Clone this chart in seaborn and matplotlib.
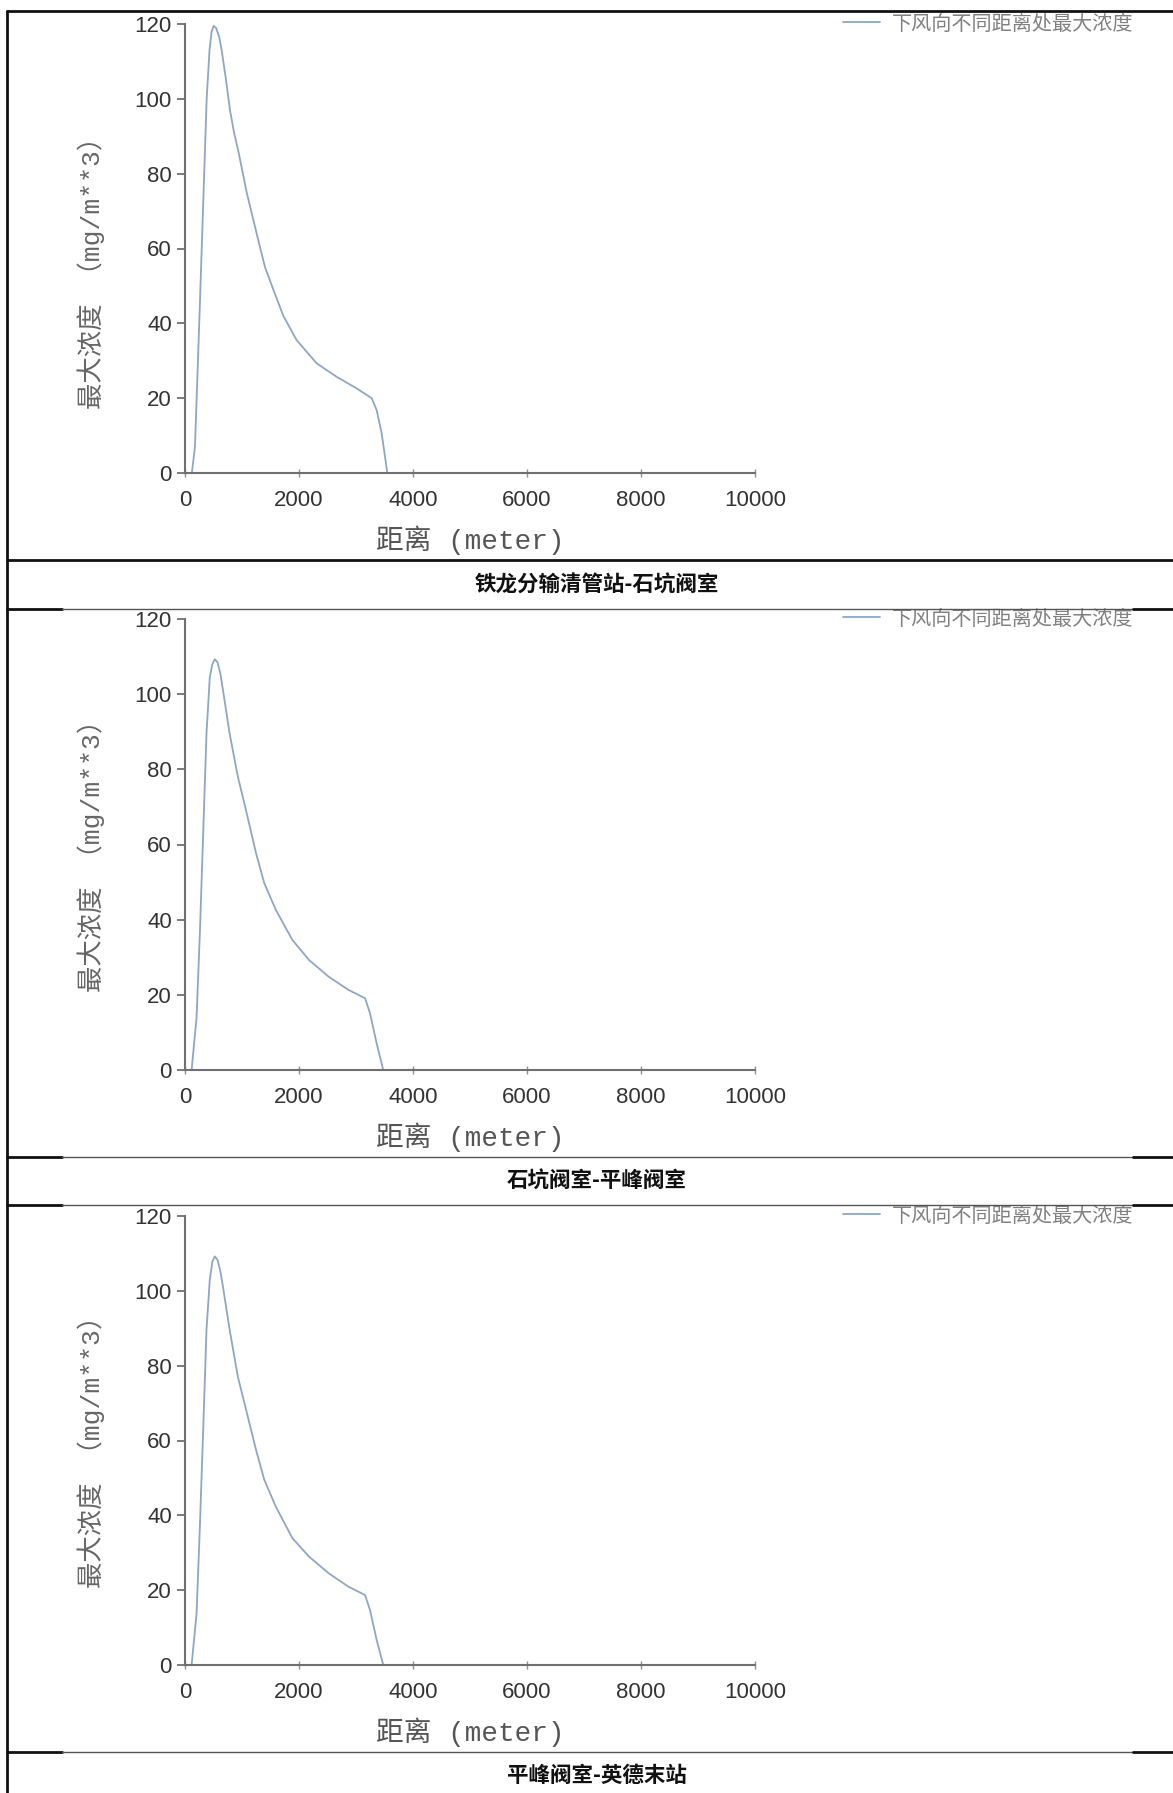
#!/usr/bin/env python3
# -*- coding: utf-8 -*-

import matplotlib
matplotlib.use("Agg")
import matplotlib.pyplot as plt
import seaborn as sns

# -----------------------------------------------------------------------------
# Data: max concentration downwind vs distance, one curve per pipeline section
# -----------------------------------------------------------------------------
captions = ["铁龙分输清管站-石坑阀室", "石坑阀室-平峰阀室", "平峰阀室-英德末站"]
legend_label = "下风向不同距离处最大浓度"

dist_1 = [0, 120, 175, 263, 380, 430, 465, 500, 545, 600, 643, 720, 789, 860, 936,
          1082, 1257, 1404, 1550, 1725, 1959, 2310, 2661, 3012, 3275, 3363, 3450, 3550]
conc_1 = [0, 0, 7, 46, 100, 113, 117.8, 119.5, 119, 116.5, 113, 105, 97, 91, 86,
          75, 64, 55, 49, 42, 35.5, 29.3, 25.7, 22.6, 20, 16.8, 10.6, 0]

dist_2 = [0, 116, 203, 261, 319, 377, 435, 480, 522, 570, 620, 667, 783, 928, 1072,
          1246, 1391, 1594, 1884, 2174, 2522, 2870, 3159, 3246, 3362, 3478]
conc_2 = [0, 0, 14, 36.5, 63, 89.5, 104.5, 108, 109.3, 108.5, 105.5, 101, 89.5, 78, 69,
          57.7, 49.7, 42.6, 34.6, 29.3, 24.8, 21.3, 19.1, 15.1, 7.1, 0]

dist_3 = [0, 116, 203, 261, 319, 377, 435, 480, 522, 570, 620, 667, 783, 928, 1072,
          1246, 1391, 1594, 1884, 2174, 2522, 2870, 3159, 3246, 3362, 3478]
conc_3 = [0, 0, 13.8, 37, 62.8, 89.6, 103, 107.8, 109.2, 108.3, 105.3, 101, 89.6, 77, 68.2,
          57.5, 49.5, 42.3, 33.9, 29, 24.5, 20.9, 18.7, 14.7, 6.7, 0]

series = [(dist_1, conc_1), (dist_2, conc_2), (dist_3, conc_3)]

x_ticks = [0, 2000, 4000, 6000, 8000, 10000]
y_ticks = [0, 20, 40, 60, 80, 100, 120]

# -----------------------------------------------------------------------------
# Layout (pixel geometry of the page)
# -----------------------------------------------------------------------------
W, H = 1173, 1793
AX_LEFT, AX_RIGHT = 185, 755
AX_TOPS = [24, 619, 1216]       # y pixel of value 120
AX_BOTTOMS = [473, 1070, 1665]  # y pixel of value 0
CAPTION_Y = [585, 1181, 1775]
CAPTION_X = 597
LINE_COLOR = "#8fa6c4"

sns.set_style("white")
plt.rcParams["font.family"] = ["Liberation Sans", "Noto Sans CJK SC", "DejaVu Sans"]

fig = plt.figure(figsize=(W / 100, H / 100), dpi=100)


def fx(px):
    return px / W


def fy(py):
    return 1 - py / H


for i, (dist, conc) in enumerate(series):
    top, bot = AX_TOPS[i], AX_BOTTOMS[i]
    ax = fig.add_axes([fx(AX_LEFT), fy(bot), fx(AX_RIGHT - AX_LEFT), (bot - top) / H])
    sns.lineplot(x=dist, y=conc, ax=ax, color=LINE_COLOR, linewidth=1.3,
                 sort=False, estimator=None, label=legend_label)
    ax.set_xlim(0, 10000)
    ax.set_ylim(0, 120)
    ax.set_xticks(x_ticks)
    ax.set_yticks(y_ticks)
    sns.despine(ax=ax)
    for s in ("left", "bottom"):
        ax.spines[s].set_color("#707070")
        ax.spines[s].set_linewidth(1.5)
    ax.tick_params(axis="y", direction="out", length=5.5, width=1.3,
                   color="#707070", labelsize=16, labelcolor="#333333", pad=4, left=True)
    ax.tick_params(axis="x", direction="inout", length=6, width=1.0,
                   color="#909090", labelsize=16, labelcolor="#333333", pad=9, bottom=True)

    ax.set_xlabel("距离 (meter)", fontsize=20, color="#555555",
                  family=["Liberation Mono", "Noto Sans CJK SC"])
    ax.xaxis.set_label_coords(0.5, -67 / (bot - top))
    ax.xaxis.label.set_va("center")

    ax.set_ylabel("最大浓度 （mg/m**3）", fontsize=19, color="#666666",
                  family=["Liberation Mono", "Noto Sans CJK SC"])
    ax.yaxis.set_label_coords(-94 / (AX_RIGHT - AX_LEFT), 0.46 if i == 0 else 0.49)
    ax.yaxis.label.set_va("center")

    leg = ax.legend(loc="center left", bbox_to_anchor=(fx(843), fy(top)),
                    bbox_transform=fig.transFigure, frameon=False, borderpad=0,
                    borderaxespad=0, handlelength=1.85, handletextpad=0.6,
                    prop={"family": "Noto Sans CJK SC", "size": 14.5})
    for t in leg.get_texts():
        t.set_color("#808080")

    fig.text(fx(CAPTION_X), fy(CAPTION_Y[i]), captions[i], ha="center", va="center",
             fontsize=15.5, fontweight="bold", family="Noto Sans CJK SC", color="#111111")

# table borders
def hline(py, x0=7, x1=W, color="#111111", lw=2.0):
    fig.add_artist(plt.Line2D([fx(x0), fx(x1)], [fy(py), fy(py)], color=color, lw=lw))


hline(11)
hline(560)
for py in (609, 1157, 1205, 1752):
    hline(py, 7, 62)
    hline(py, 62, 1133, color="#555555", lw=1.0)
    hline(py, 1133, W)
fig.add_artist(plt.Line2D([fx(7), fx(7)], [fy(11), 0], color="#111111", lw=2.0))

fig.savefig("out.png", dpi=100)
